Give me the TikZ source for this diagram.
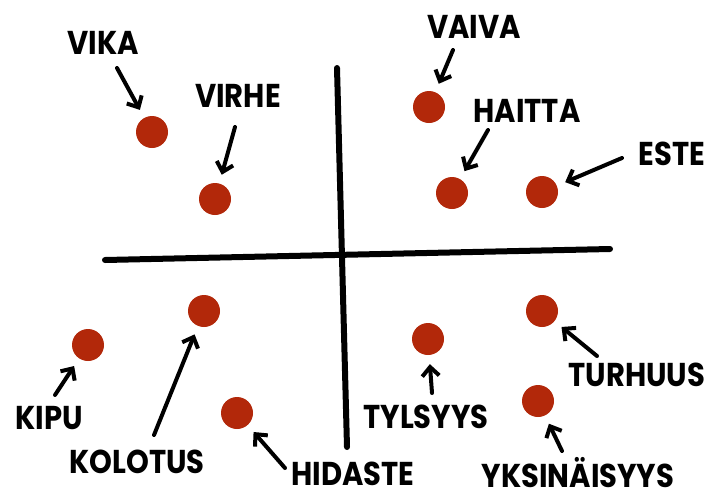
\documentclass[tikz,border=0pt]{standalone}
\usepackage{fontspec}
\setmainfont{Poppins}[FakeStretch=0.88]
\usepackage{tikz}
\usetikzlibrary{arrows.meta}
\definecolor{dotred}{RGB}{178,40,10}

\begin{document}
\begin{tikzpicture}[x=1pt,y=-1pt,
  dot/.style={circle,fill=dotred,minimum size=32pt,inner sep=0pt},
  word/.style={font=\fontsize{33}{34}\selectfont\bfseries,inner sep=0pt,text height=23pt,text depth=0pt},
  pointer/.style={-{Straight Barb[length=9pt,width=17pt]},line width=4pt,line cap=round,shorten >=9pt},
  axis/.style={line width=6pt,line cap=round}]

\useasboundingbox (0,0) rectangle (717,499);

% Axes
\coordinate (hl) at (105,260);
\coordinate (hr) at (610,249);
\coordinate (vt) at (337,68);
\coordinate (vb) at (347,447);
\draw[axis] (hl) -- (hr);
\draw[axis] (vt) -- (vb);

% Dots
\node[dot] (vika) at (152,132) {};
\node[dot] (virhe) at (215,199) {};
\node[dot] (vaiva) at (429,107) {};
\node[dot] (haitta) at (452,193) {};
\node[dot] (este) at (542,192) {};
\node[dot] (kipu) at (88,345) {};
\node[dot] (kolotus) at (204,311) {};
\node[dot] (hidaste) at (237,413) {};
\node[dot] (tylsyys) at (428,339) {};
\node[dot] (turhuus) at (542,311) {};
\node[dot] (yksin) at (538,401) {};

% Labels
\node[word] (vikaT) at (103,43) {VIKA};
\node[word] (virheT) at (238,96) {VIRHE};
\node[word] (vaivaT) at (474,27) {VAIVA};
\node[word] (haittaT) at (527,111) {HAITTA};
\node[word] (esteT) at (672,154) {ESTE};
\node[word] (kipuT) at (49,418) {KIPU};
\node[word] (kolotusT) at (137,462) {KOLOTUS};
\node[word] (hidasteT) at (353,474) {HIDASTE};
\node[word] (tylsyysT) at (426,417) {TYLSYYS};
\node[word] (turhuusT) at (637,375) {TURHUUS};
\node[word] (yksinT) at (578,476) {YKSINÄISYYS};

% Arrow tails
\coordinate (vikaA) at (117,68);
\coordinate (virheA) at (235,127);
\coordinate (vaivaA) at (453,50);
\coordinate (haittaA) at (488,130);
\coordinate (esteA) at (622,158);
\coordinate (kipuA) at (55,395);
\coordinate (kolotusA) at (154,435);
\coordinate (hidasteA) at (285,468);
\coordinate (tylsyysA) at (432,393);
\coordinate (turhuusA) at (597,356);
\coordinate (yksinA) at (562,451);

% Arrows
\draw[pointer] (vikaA) -- (vika);
\draw[pointer] (virheA) -- (virhe);
\draw[pointer] (vaivaA) -- (vaiva);
\draw[pointer] (haittaA) -- (haitta);
\draw[pointer] (esteA) -- (este);
\draw[pointer] (kipuA) -- (kipu);
\draw[pointer] (kolotusA) -- (kolotus);
\draw[pointer] (hidasteA) -- (hidaste);
\draw[pointer] (tylsyysA) -- (tylsyys);
\draw[pointer] (turhuusA) -- (turhuus);
\draw[pointer] (yksinA) -- (yksin);

\end{tikzpicture}
\end{document}
